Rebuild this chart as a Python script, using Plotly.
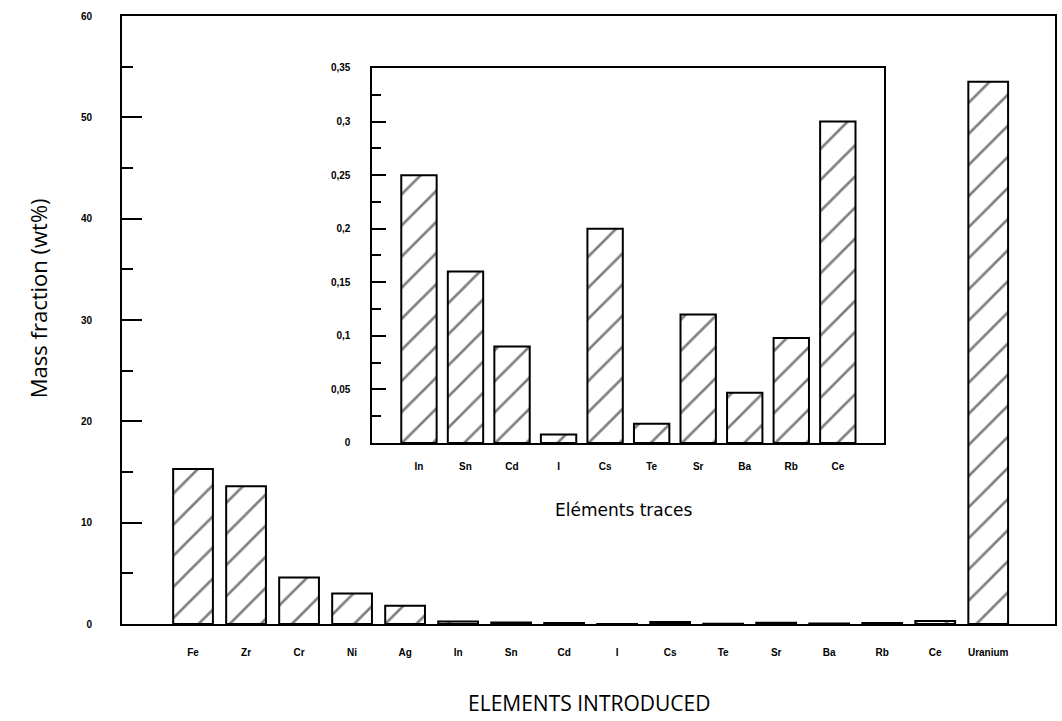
import plotly.graph_objects as go

# Main chart data
main_elements = ["Fe", "Zr", "Cr", "Ni", "Ag", "In", "Sn", "Cd", "I", "Cs",
                 "Te", "Sr", "Ba", "Rb", "Ce", "Uranium"]
main_values = [15.3, 13.6, 4.6, 3.0, 1.8, 0.25, 0.16, 0.09, 0.008, 0.2,
               0.018, 0.12, 0.047, 0.098, 0.3, 53.5]

# Inset (trace elements) data
trace_elements = ["In", "Sn", "Cd", "I", "Cs", "Te", "Sr", "Ba", "Rb", "Ce"]
trace_values = [0.25, 0.16, 0.09, 0.008, 0.2, 0.018, 0.12, 0.047, 0.098, 0.3]

main_yticks = [0, 10, 20, 30, 40, 50, 60]
inset_yticks = [0, 0.05, 0.1, 0.15, 0.2, 0.25, 0.3, 0.35]
inset_yticktext = ["0", "0,05", "0,1", "0,15", "0,2", "0,25", "0,3", "0,35"]

pattern = dict(shape="/", fgcolor="black", bgcolor="white", size=22, solidity=0.12)

fig = go.Figure()
fig.add_trace(go.Bar(
    x=list(range(len(main_elements))), y=main_values, width=0.75,
    marker=dict(color="white", line=dict(color="black", width=2), pattern=pattern),
    xaxis="x", yaxis="y", showlegend=False,
))
fig.add_trace(go.Bar(
    x=list(range(len(trace_elements))), y=trace_values, width=0.76,
    marker=dict(color="white", line=dict(color="black", width=2), pattern=pattern),
    xaxis="x2", yaxis="y2", showlegend=False,
))

tickfont_main = dict(family="Liberation Sans", size=10, color="black", weight="bold")

fig.update_layout(
    width=1062, height=721,
    margin=dict(l=122, r=5, t=16, b=97),
    paper_bgcolor="white", plot_bgcolor="white",
    xaxis=dict(
        domain=[0, 1], range=[-1.34, 16.26],
        tickvals=list(range(len(main_elements))), ticktext=main_elements,
        ticks="outside", ticklen=18, tickcolor="rgba(0,0,0,0)",
        showline=True, linecolor="black", linewidth=2, mirror=True,
        showgrid=False, zeroline=False, tickfont=tickfont_main,
    ),
    yaxis=dict(
        domain=[0, 1], range=[0, 60],
        tickvals=main_yticks,
        ticks="inside", ticklen=20, tickwidth=2, tickcolor="black",
        minor=dict(ticks="inside", ticklen=11, tickwidth=2, dtick=5, tickcolor="black"),
        ticklabelstandoff=26,
        showline=True, linecolor="black", linewidth=2, mirror=True,
        showgrid=False, zeroline=False, tickfont=tickfont_main,
    ),
    xaxis2=dict(
        domain=[0.2684, 0.8171], range=[-1.0, 10.0], anchor="y2",
        tickvals=list(range(len(trace_elements))), ticktext=trace_elements,
        ticks="outside", ticklen=13, tickcolor="rgba(0,0,0,0)",
        showline=True, linecolor="black", linewidth=2, mirror=True,
        showgrid=False, zeroline=False, tickfont=tickfont_main,
    ),
    yaxis2=dict(
        domain=[0.2977, 0.9145], range=[0, 0.35], anchor="x2",
        tickvals=inset_yticks, ticktext=inset_yticktext,
        ticks="inside", ticklen=14, tickwidth=2, tickcolor="black",
        minor=dict(ticks="inside", ticklen=9, tickwidth=2, dtick=0.025, tickcolor="black"),
        ticklabelstandoff=18,
        showline=True, linecolor="black", linewidth=2, mirror=True,
        showgrid=False, zeroline=False, tickfont=tickfont_main,
    ),
    annotations=[
        dict(text="Mass fraction (wt%)", xref="paper", yref="paper",
             x=(38 - 122) / 935, y=(624 - 298) / 608, xanchor="center", yanchor="middle",
             showarrow=False, textangle=-90,
             font=dict(family="Open Sans", size=22, color="black")),
        dict(text="ELEMENTS INTRODUCED", xref="paper", yref="paper",
             x=(590 - 122) / 935, y=(624 - 703) / 608, xanchor="center", yanchor="middle",
             showarrow=False,
             font=dict(family="Open Sans", size=21, color="black")),
        dict(text="Eléments traces", xref="paper", yref="paper",
             x=(625 - 122) / 935, y=(624 - 510) / 608, xanchor="center", yanchor="middle",
             showarrow=False,
             font=dict(family="DejaVu Sans", size=17, color="black")),
    ],
    bargap=0.25,
)

fig.write_html("out.html")
